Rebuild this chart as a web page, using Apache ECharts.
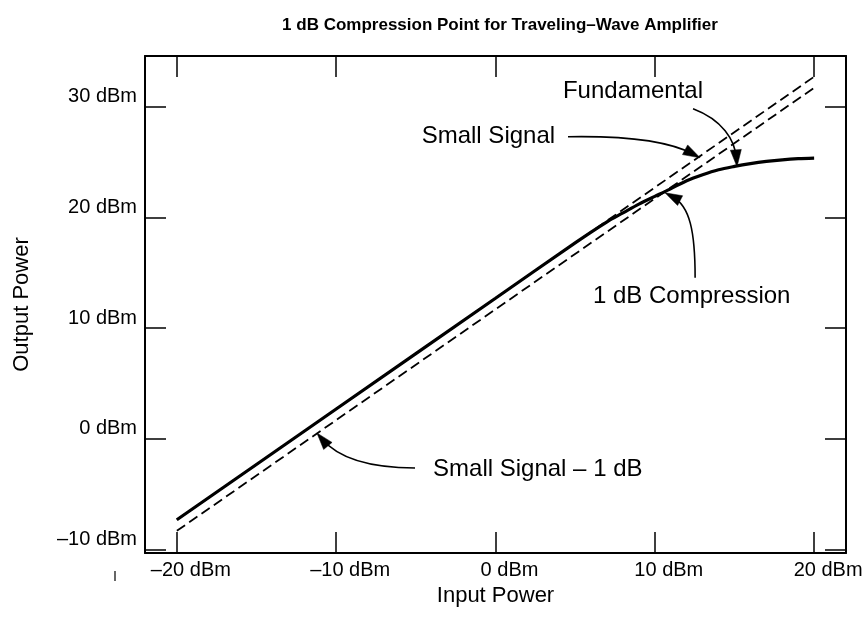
<!DOCTYPE html>
<html><head><meta charset="utf-8">
<script src="https://cdn.jsdelivr.net/npm/echarts@6/dist/echarts.min.js"></script>
<style>html,body{margin:0;padding:0;background:#fff}#c{width:867px;height:632px}</style>
</head><body><div id="c"></div>
<script>
// ---- data (dBm) ----
const inputPower  = [-20, -10, 0, 5, 7, 8, 9, 10, 10.6, 12, 13, 14, 15, 16, 17, 18, 19, 20];
const fundamental = [-7.3, 2.7, 12.7, 17.7, 19.6, 20.4, 21.2, 21.9, 22.3, 23.3, 23.85, 24.3, 24.6, 24.85, 25.05, 25.2, 25.3, 25.35];
const smallSignalX      = [-20, 20];
const smallSignal       = [-7.3, 32.7];
const smallSignalMinus1 = [-8.3, 31.7];
const xTicks = [-20, -10, 0, 10, 20];
const yTicks = [-10, 0, 10, 20, 30];
const unit = ' dBm';

// annotation anchors in data coordinates: text anchor, arrow start, control 1, control 2, tip
const annotations = [
  {text: 'Fundamental', at: [8.63, 31.35], align: 'center',
   arrow: [[12.40, 29.81], [14.22, 28.82], [15.04, 27.01], [15.16, 24.57]]},
  {text: 'Small Signal', at: [3.74, 27.28], align: 'right',
   arrow: [[4.55, 27.28], [8.13, 27.37], [10.96, 26.83], [12.84, 25.38]]},
  {text: '1 dB Compression', at: [6.12, 12.83], align: 'left',
   arrow: [[12.53, 14.54], [12.53, 18.70], [12.21, 21.05], [10.64, 22.22]]},
  {text: 'Small Signal \u2013 1 dB', at: [-3.92, -2.71], align: 'left',
   arrow: [[-5.05, -2.62], [-8.01, -2.62], [-9.89, -1.72], [-11.21, 0.54]]}
];

const FONT = '"Liberation Sans", Arial, Helvetica, sans-serif';
const fmt = v => (v < 0 ? '\u2013' + Math.abs(v) : String(v)) + unit;
const zip = (xs, ys) => xs.map((x, i) => [x, ys[i]]);

const chart = echarts.init(document.getElementById('c'), null, {renderer: 'canvas'});
const axisLine = {show: true, onZero: false, lineStyle: {color: '#000', width: 2}};
const tickStyle = {show: true, inside: true, length: 21, lineStyle: {color: '#000', width: 1.5}};

chart.setOption({
  animation: false,
  backgroundColor: '#fff',
  title: {
    text: '1 dB Compression Point for Traveling\u2013Wave Amplifier',
    left: 495, top: 12, textAlign: 'center',
    textStyle: {fontFamily: FONT, fontWeight: 'bold', fontSize: 17, color: '#000'}
  },
  grid: {left: 145, right: 21, top: 56, bottom: 79, containLabel: false},
  xAxis: [
    {type: 'value', min: -22, max: 22, position: 'bottom',
     name: 'Input Power', nameLocation: 'middle', nameGap: 28,
     nameTextStyle: {fontFamily: FONT, fontSize: 22, color: '#000'},
     axisLine, splitLine: {show: false},
     axisTick: Object.assign({customValues: xTicks}, tickStyle),
     axisLabel: {customValues: xTicks, formatter: fmt, margin: 7, padding: [0, 0, 0, 28],
                 fontFamily: FONT, fontSize: 20, color: '#000'}},
    {type: 'value', min: -22, max: 22, position: 'top',
     axisLine, splitLine: {show: false},
     axisTick: Object.assign({customValues: xTicks}, tickStyle),
     axisLabel: {show: false}}
  ],
  yAxis: [
    {type: 'value', min: -10.3, max: 34.57, position: 'left',
     name: 'Output Power', nameLocation: 'middle', nameGap: 112, nameRotate: 90,
     nameTextStyle: {fontFamily: FONT, fontSize: 22, color: '#000'},
     axisLine, splitLine: {show: false},
     axisTick: Object.assign({customValues: yTicks}, tickStyle),
     axisLabel: {customValues: yTicks, formatter: fmt, margin: 8, verticalAlign: 'bottom',
                 fontFamily: FONT, fontSize: 20, color: '#000'}},
    {type: 'value', min: -10.3, max: 34.57, position: 'right',
     axisLine, splitLine: {show: false},
     axisTick: Object.assign({customValues: yTicks}, tickStyle),
     axisLabel: {show: false}}
  ],
  series: [
    {name: 'Small Signal', type: 'line', data: zip(smallSignalX, smallSignal), symbol: 'none',
     lineStyle: {color: '#000', width: 1.8, type: [10, 5]}},
    {name: 'Small Signal \u2013 1 dB', type: 'line', data: zip(smallSignalX, smallSignalMinus1), symbol: 'none',
     lineStyle: {color: '#000', width: 1.8, type: [10, 5]}},
    {name: 'Fundamental', type: 'line', data: zip(inputPower, fundamental), symbol: 'none',
     smooth: 0.3, lineStyle: {color: '#000', width: 3.2}}
  ]
});

function px(p) { return chart.convertToPixel({xAxisIndex: 0, yAxisIndex: 0}, p); }
const g = [];
annotations.forEach(a => {
  const t = px(a.at);
  g.push({type: 'text', x: t[0], y: t[1],
    style: {text: a.text, fontFamily: FONT, fontSize: 24, fill: '#000',
            align: a.align, verticalAlign: 'middle'}});
  const [s, c1, c2, tip] = a.arrow.map(px);
  const dx = tip[0] - c2[0], dy = tip[1] - c2[1];
  const L = Math.hypot(dx, dy), ux = dx / L, uy = dy / L;
  const hl = 17, hw = 5.5;
  const bx = tip[0] - ux * hl, by = tip[1] - uy * hl;
  g.push({type: 'bezierCurve',
    shape: {x1: s[0], y1: s[1], cpx1: c1[0], cpy1: c1[1], cpx2: c2[0], cpy2: c2[1],
            x2: tip[0] - ux * 8, y2: tip[1] - uy * 8},
    style: {stroke: '#000', lineWidth: 1.6, fill: null}});
  g.push({type: 'polygon',
    shape: {points: [tip, [bx - uy * hw, by + ux * hw], [bx + uy * hw, by - ux * hw]]},
    style: {fill: '#000', stroke: '#000', lineWidth: 0.5}});
});
// stray mark below the y axis labels
g.push({type: 'line', shape: {x1: 115, y1: 571, x2: 115, y2: 581}, style: {stroke: '#000', lineWidth: 1.2}});
chart.setOption({graphic: g});
</script>
</body></html>
